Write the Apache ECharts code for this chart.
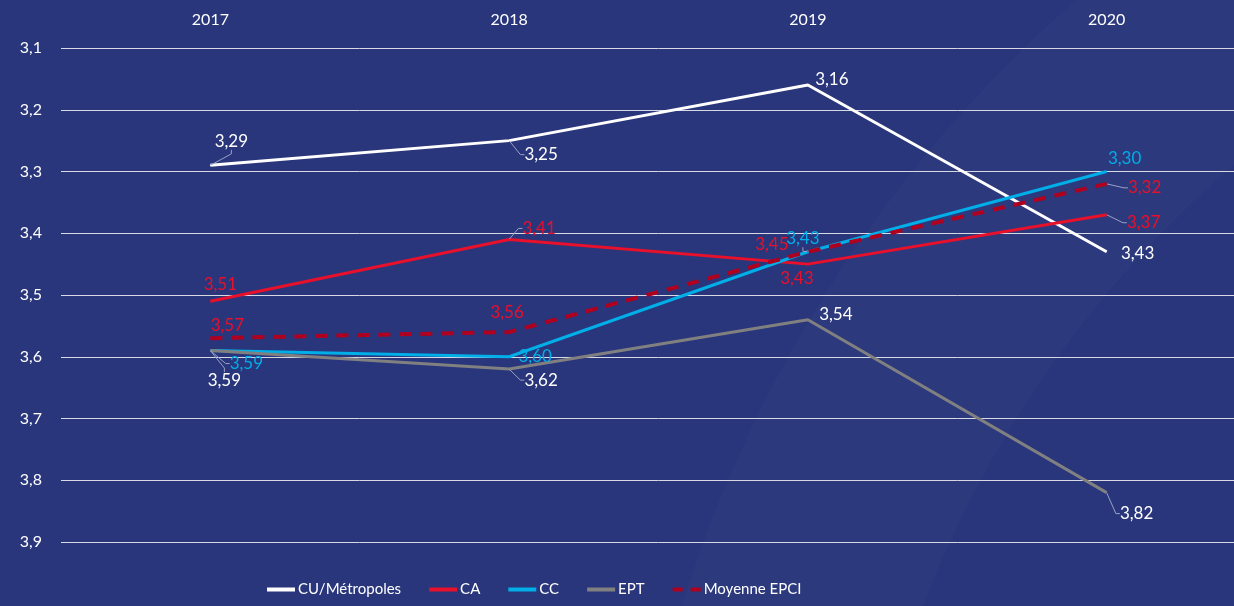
<!DOCTYPE html>
<html>
<head>
<meta charset="utf-8">
<script src="https://cdn.jsdelivr.net/npm/echarts@6/dist/echarts.min.js"></script>
<style>
  html, body { margin: 0; padding: 0; background: #29367b; overflow: hidden; }
  /* the plot runs past the right edge in the original, so the canvas is a bit wider than the window */
  #chart { width: 1256px; height: 606px; }
</style>
</head>
<body>
<div id="chart"></div>
<script>
  var years = ['2017', '2018', '2019', '2020'];
  var cuMetropoles = [3.29, 3.25, 3.16, 3.43];
  var ca = [3.51, 3.41, 3.45, 3.37];
  var cc = [3.59, 3.60, 3.43, 3.30];
  var ept = [3.59, 3.62, 3.54, 3.82];
  var moyenneEpci = [3.57, 3.56, 3.43, 3.32];

  // label offsets (dx, dy) from each point and whether a leader line is drawn
  var offsets = {
    'CU/Métropoles': [[21, -24], [32, 14], [24, -6], [31, 2]],
    'CA': [[10, -17], [30, -11], [-36, -20], [37, 8]],
    'CC': [[36, 13], [26, 0], [-5, -13], [18, -13]],
    'EPT': [[14, 30], [32, 11], [28, -5], [30, 21]],
    'Moyenne EPCI': [[17, -13], [-2, -20], [-11, 27], [38, 4]]
  };
  var leaders = {
    'CU/Métropoles': [true, true, false, false],
    'CA': [false, true, false, true],
    'CC': [true, false, true, false],
    'EPT': [true, true, false, true],
    'Moyenne EPCI': [false, false, false, true]
  };

  var font = 'Lato, "Open Sans", sans-serif';

  function makeSeries(name, values, color, labelColor, dashed) {
    return {
      name: name,
      type: 'line',
      data: values.map(function (v, i) {
        return { value: v, labelLine: { show: leaders[name][i] } };
      }),
      symbol: 'circle',
      symbolSize: 1,
      showSymbol: true,
      lineStyle: { color: color, width: dashed ? 4 : 3, type: dashed ? [12, 9] : 'solid' },
      itemStyle: { color: color },
      label: {
        show: true,
        position: 'inside',
        color: labelColor,
        fontSize: 17,
        fontFamily: font,
        formatter: function (p) { return p.value.toFixed(2).replace('.', ','); }
      },
      labelLine: { show: true, length2: 4, lineStyle: { color: '#9aa0c8', width: 1 } },
      labelLayout: function (p) {
        var o = offsets[name][p.dataIndex];
        return { dx: o[0], dy: o[1] };
      },
      emphasis: { disabled: true },
      z: dashed ? 3 : 2
    };
  }

  var chart = echarts.init(document.getElementById('chart'));
  chart.setOption({
    backgroundColor: '#29367b',
    animation: false,
    textStyle: { fontFamily: font },
    graphic: [{
      type: 'ring',
      shape: { cx: 1950, cy: 1000, r: 1328, r0: 1100 },
      style: { fill: 'rgba(255,255,255,0.018)' },
      silent: true,
      z: -10
    }],
    grid: { left: 61, right: 0, top: 48, bottom: 64 },
    legend: {
      left: 262,
      bottom: 4,
      itemWidth: 28,
      itemHeight: 4,
      itemGap: 28,
      textStyle: { color: '#ffffff', fontSize: 15, fontFamily: font, padding: [0, 0, 0, -2], width: 0 },
      formatter: function (n) { return n; },
      data: [
        { name: 'CU/Métropoles', icon: 'rect' },
        { name: 'CA', icon: 'rect' },
        { name: 'CC', icon: 'rect' },
        { name: 'EPT', icon: 'rect' },
        { name: 'Moyenne EPCI', icon: 'path://M0,0H10V4H0Z M18,0H28V4H18Z' }
      ]
    },
    xAxis: {
      type: 'category',
      position: 'top',
      data: years,
      boundaryGap: true,
      axisLine: { show: false },
      axisTick: { show: false },
      axisLabel: { color: '#ffffff', fontSize: 16, margin: 20, fontFamily: font }
    },
    yAxis: {
      type: 'value',
      inverse: true,
      min: 3.1,
      max: 3.9,
      interval: 0.1,
      axisLine: { show: false },
      axisTick: { show: false },
      splitLine: { lineStyle: { color: '#d9d9e3', width: 1 } },
      axisLabel: {
        color: '#ffffff', fontSize: 16, margin: 19, fontFamily: font,
        formatter: function (v) { return v.toFixed(1).replace('.', ','); }
      }
    },
    series: [
      makeSeries('CU/Métropoles', cuMetropoles, '#ffffff', '#ffffff', false),
      makeSeries('CA', ca, '#e8102b', '#e8102b', false),
      makeSeries('CC', cc, '#00aee8', '#00aee8', false),
      makeSeries('EPT', ept, '#808080', '#ffffff', false),
      makeSeries('Moyenne EPCI', moyenneEpci, '#b00020', '#e8102b', true)
    ]
  });
</script>
</body>
</html>
